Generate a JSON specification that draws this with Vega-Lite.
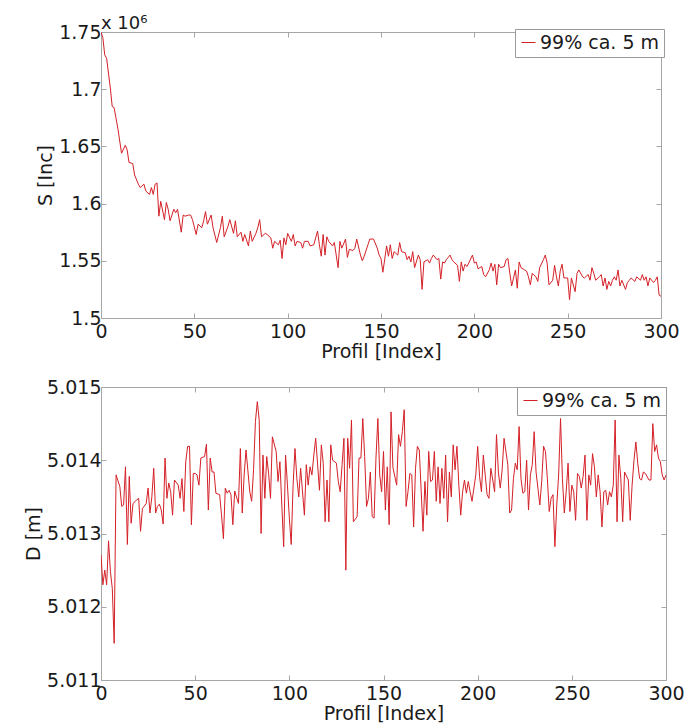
{
  "$schema": "https://vega.github.io/schema/vega-lite/v6.json",
  "background": "white",
  "padding": {"left": 24, "top": 15, "right": 5, "bottom": 5},
  "config": {
    "font": "DejaVu Sans",
    "view": {"stroke": null},
    "axis": {
      "grid": false,
      "domainColor": "#a6a6a6",
      "domainWidth": 1,
      "tickColor": "#a6a6a6",
      "tickWidth": 1,
      "tickSize": -5,
      "labelFont": "DejaVu Sans",
      "labelFontSize": 19,
      "labelColor": "#1a1a1a",
      "labelFlush": false,
      "labelOverlap": false,
      "titleFont": "DejaVu Sans",
      "titleFontSize": 19,
      "titleFontWeight": "normal",
      "titleColor": "#1a1a1a"
    },
    "axisX": {"labelPadding": 9, "titlePadding": 1},
    "axisY": {"labelPadding": 5, "titlePadding": 3},
    "legend": {
      "orient": "top-right",
      "strokeColor": "#9a9a9a",
      "fillColor": "white",
      "padding": 4,
      "cornerRadius": 0,
      "labelFont": "DejaVu Sans",
      "labelFontSize": 19,
      "labelColor": "#1a1a1a",
      "labelOffset": 2,
      "symbolType": "stroke",
      "symbolSize": 196,
      "symbolStrokeWidth": 1
    }
  },
  "bounds": "flush",
  "spacing": 69,
  "resolve": {"scale": {"color": "independent"}, "legend": {"color": "independent"}},
  "vconcat": [
    {
      "width": 560,
      "height": 286,
      "title": {"text": "x 10⁶", "anchor": "start", "frame": "group", "font": "DejaVu Sans", "fontSize": 18, "fontWeight": "normal", "color": "#1a1a1a", "offset": -24, "baseline": "alphabetic"},
      "data": {"values": [
        {"profil":0,"s":1750000},{"profil":1,"s":1745000},{"profil":2,"s":1730000},{"profil":3,"s":1727000},{"profil":5,"s":1701000},{"profil":6,"s":1685000},{"profil":7,"s":1684000},{"profil":8,"s":1675000},{"profil":9,"s":1666000},{"profil":11,"s":1644000},{"profil":13,"s":1651000},{"profil":14,"s":1647000},{"profil":15,"s":1636000},{"profil":17,"s":1635000},{"profil":18,"s":1625000},{"profil":20,"s":1617000},{"profil":21,"s":1614000},{"profil":23,"s":1617000},{"profil":24,"s":1611000},{"profil":26,"s":1608000},{"profil":27,"s":1614000},{"profil":28,"s":1608000},{"profil":29,"s":1617000},{"profil":30,"s":1618000},{"profil":31,"s":1589000},{"profil":32,"s":1602000},{"profil":34,"s":1586000},{"profil":35,"s":1601000},{"profil":36,"s":1595000},{"profil":37,"s":1585000},{"profil":39,"s":1595000},{"profil":40,"s":1592000},{"profil":41,"s":1595000},{"profil":43,"s":1575000},{"profil":44,"s":1590000},{"profil":45,"s":1589000},{"profil":47,"s":1590000},{"profil":48,"s":1590000},{"profil":49,"s":1586000},{"profil":51,"s":1573000},{"profil":52,"s":1582000},{"profil":54,"s":1579000},{"profil":55,"s":1585000},{"profil":56,"s":1593000},{"profil":57,"s":1582000},{"profil":59,"s":1590000},{"profil":60,"s":1579000},{"profil":62,"s":1566000},{"profil":64,"s":1579000},{"profil":65,"s":1589000},{"profil":66,"s":1571000},{"profil":68,"s":1580000},{"profil":69,"s":1586000},{"profil":71,"s":1574000},{"profil":72,"s":1585000},{"profil":73,"s":1571000},{"profil":75,"s":1575000},{"profil":76,"s":1567000},{"profil":77,"s":1573000},{"profil":79,"s":1563000},{"profil":80,"s":1576000},{"profil":81,"s":1567000},{"profil":83,"s":1574000},{"profil":84,"s":1579000},{"profil":85,"s":1586000},{"profil":86,"s":1571000},{"profil":88,"s":1574000},{"profil":89,"s":1573000},{"profil":91,"s":1570000},{"profil":92,"s":1561000},{"profil":93,"s":1567000},{"profil":95,"s":1564000},{"profil":96,"s":1568000},{"profil":97,"s":1552000},{"profil":98,"s":1570000},{"profil":99,"s":1564000},{"profil":100,"s":1574000},{"profil":102,"s":1567000},{"profil":103,"s":1573000},{"profil":104,"s":1563000},{"profil":105,"s":1567000},{"profil":107,"s":1566000},{"profil":108,"s":1561000},{"profil":109,"s":1567000},{"profil":111,"s":1567000},{"profil":112,"s":1563000},{"profil":114,"s":1564000},{"profil":115,"s":1570000},{"profil":116,"s":1576000},{"profil":117,"s":1564000},{"profil":118,"s":1554000},{"profil":119,"s":1573000},{"profil":120,"s":1555000},{"profil":121,"s":1571000},{"profil":122,"s":1567000},{"profil":124,"s":1563000},{"profil":125,"s":1566000},{"profil":127,"s":1544000},{"profil":128,"s":1567000},{"profil":129,"s":1561000},{"profil":131,"s":1569000},{"profil":132,"s":1553000},{"profil":133,"s":1560000},{"profil":135,"s":1559000},{"profil":136,"s":1561000},{"profil":137,"s":1569000},{"profil":139,"s":1555000},{"profil":140,"s":1550000},{"profil":141,"s":1554000},{"profil":143,"s":1564000},{"profil":144,"s":1569000},{"profil":146,"s":1569000},{"profil":148,"s":1561000},{"profil":149,"s":1555000},{"profil":150,"s":1552000},{"profil":151,"s":1540000},{"profil":153,"s":1563000},{"profil":154,"s":1554000},{"profil":155,"s":1564000},{"profil":156,"s":1552000},{"profil":157,"s":1558000},{"profil":159,"s":1555000},{"profil":160,"s":1566000},{"profil":161,"s":1558000},{"profil":163,"s":1557000},{"profil":164,"s":1551000},{"profil":165,"s":1554000},{"profil":166,"s":1549000},{"profil":167,"s":1558000},{"profil":168,"s":1544000},{"profil":170,"s":1555000},{"profil":171,"s":1551000},{"profil":172,"s":1525000},{"profil":173,"s":1549000},{"profil":175,"s":1551000},{"profil":176,"s":1548000},{"profil":177,"s":1552000},{"profil":178,"s":1555000},{"profil":180,"s":1551000},{"profil":181,"s":1552000},{"profil":182,"s":1534000},{"profil":183,"s":1549000},{"profil":184,"s":1548000},{"profil":185,"s":1551000},{"profil":187,"s":1555000},{"profil":188,"s":1551000},{"profil":189,"s":1549000},{"profil":191,"s":1546000},{"profil":192,"s":1532000},{"profil":193,"s":1549000},{"profil":194,"s":1541000},{"profil":195,"s":1547000},{"profil":196,"s":1545000},{"profil":197,"s":1548000},{"profil":199,"s":1555000},{"profil":200,"s":1548000},{"profil":201,"s":1549000},{"profil":202,"s":1543000},{"profil":204,"s":1545000},{"profil":205,"s":1538000},{"profil":206,"s":1536000},{"profil":208,"s":1542000},{"profil":209,"s":1548000},{"profil":210,"s":1541000},{"profil":211,"s":1547000},{"profil":212,"s":1529000},{"profil":213,"s":1547000},{"profil":214,"s":1544000},{"profil":216,"s":1545000},{"profil":217,"s":1551000},{"profil":218,"s":1552000},{"profil":219,"s":1539000},{"profil":220,"s":1528000},{"profil":222,"s":1542000},{"profil":223,"s":1526000},{"profil":224,"s":1549000},{"profil":225,"s":1544000},{"profil":227,"s":1542000},{"profil":228,"s":1541000},{"profil":229,"s":1536000},{"profil":230,"s":1529000},{"profil":231,"s":1539000},{"profil":233,"s":1536000},{"profil":234,"s":1532000},{"profil":235,"s":1544000},{"profil":237,"s":1551000},{"profil":238,"s":1555000},{"profil":239,"s":1548000},{"profil":240,"s":1529000},{"profil":242,"s":1533000},{"profil":243,"s":1546000},{"profil":244,"s":1536000},{"profil":245,"s":1528000},{"profil":246,"s":1541000},{"profil":247,"s":1547000},{"profil":248,"s":1535000},{"profil":250,"s":1535000},{"profil":251,"s":1516000},{"profil":252,"s":1535000},{"profil":254,"s":1523000},{"profil":255,"s":1539000},{"profil":256,"s":1542000},{"profil":258,"s":1536000},{"profil":259,"s":1535000},{"profil":261,"s":1538000},{"profil":262,"s":1533000},{"profil":263,"s":1544000},{"profil":264,"s":1539000},{"profil":265,"s":1533000},{"profil":267,"s":1536000},{"profil":268,"s":1538000},{"profil":269,"s":1528000},{"profil":270,"s":1535000},{"profil":271,"s":1525000},{"profil":272,"s":1532000},{"profil":273,"s":1528000},{"profil":274,"s":1533000},{"profil":275,"s":1536000},{"profil":276,"s":1533000},{"profil":277,"s":1542000},{"profil":278,"s":1528000},{"profil":279,"s":1533000},{"profil":281,"s":1525000},{"profil":282,"s":1531000},{"profil":283,"s":1533000},{"profil":284,"s":1535000},{"profil":286,"s":1532000},{"profil":287,"s":1536000},{"profil":289,"s":1533000},{"profil":290,"s":1538000},{"profil":291,"s":1533000},{"profil":292,"s":1536000},{"profil":293,"s":1528000},{"profil":294,"s":1535000},{"profil":296,"s":1531000},{"profil":297,"s":1533000},{"profil":298,"s":1536000},{"profil":299,"s":1520000},{"profil":300,"s":1519000}
      ]},
      "layer": [
        {
          "mark": {"type": "line", "strokeWidth": 1, "clip": true},
          "encoding": {
            "x": {"field": "profil", "type": "quantitative", "scale": {"domain": [0, 300], "nice": false}, "axis": {"orient": "bottom", "title": "Profil [Index]", "values": [0, 50, 100, 150, 200, 250, 300], "format": "d"}},
            "y": {"field": "s", "type": "quantitative", "scale": {"domain": [1500000, 1750000], "nice": false, "zero": false}, "axis": {"orient": "left", "title": "S [Inc]", "values": [1500000, 1550000, 1600000, 1650000, 1700000, 1750000], "labelExpr": "format(datum.value / 1000000, '~g')"}},
            "color": {"datum": "99% ca. 5 m", "type": "nominal", "scale": {"range": ["#d42027"]}, "legend": {"title": null, "orient": "top-right", "offset": -3}}
          }
        },
        {
          "mark": {"type": "line", "opacity": 0},
          "encoding": {
            "x": {"field": "profil", "type": "quantitative", "axis": {"orient": "top", "labels": false, "title": null, "values": [0, 50, 100, 150, 200, 250, 300]}},
            "y": {"field": "s", "type": "quantitative", "axis": {"orient": "right", "labels": false, "title": null, "values": [1500000, 1550000, 1600000, 1650000, 1700000, 1750000]}}
          }
        }
      ],
      "resolve": {"axis": {"x": "independent", "y": "independent"}}
    },
    {
      "width": 565,
      "height": 293,
      "data": {"values": [
        {"profil":0,"d":5.01271},{"profil":1,"d":5.0123},{"profil":2,"d":5.0125},{"profil":3,"d":5.0123},{"profil":4,"d":5.0129},{"profil":5,"d":5.01248},{"profil":6,"d":5.01225},{"profil":7,"d":5.0115},{"profil":8,"d":5.0138},{"profil":10,"d":5.01364},{"profil":11,"d":5.01337},{"profil":12,"d":5.01339},{"profil":13,"d":5.01391},{"profil":14,"d":5.01285},{"profil":15,"d":5.01378},{"profil":16,"d":5.01314},{"profil":17,"d":5.01341},{"profil":19,"d":5.01346},{"profil":20,"d":5.01348},{"profil":21,"d":5.01303},{"profil":22,"d":5.01334},{"profil":24,"d":5.01341},{"profil":25,"d":5.01362},{"profil":26,"d":5.01328},{"profil":27,"d":5.0135},{"profil":28,"d":5.01389},{"profil":29,"d":5.01328},{"profil":30,"d":5.01337},{"profil":31,"d":5.0134},{"profil":32,"d":5.01332},{"profil":33,"d":5.01313},{"profil":34,"d":5.01403},{"profil":35,"d":5.01348},{"profil":36,"d":5.01369},{"profil":37,"d":5.01357},{"profil":38,"d":5.01325},{"profil":39,"d":5.01373},{"profil":41,"d":5.01366},{"profil":42,"d":5.01348},{"profil":43,"d":5.01375},{"profil":44,"d":5.0133},{"profil":45,"d":5.01398},{"profil":46,"d":5.01419},{"profil":47,"d":5.01419},{"profil":48,"d":5.01312},{"profil":49,"d":5.01382},{"profil":50,"d":5.01382},{"profil":51,"d":5.0138},{"profil":52,"d":5.01366},{"profil":53,"d":5.01403},{"profil":55,"d":5.01405},{"profil":56,"d":5.01422},{"profil":57,"d":5.01332},{"profil":58,"d":5.01403},{"profil":59,"d":5.01384},{"profil":60,"d":5.01384},{"profil":61,"d":5.01355},{"profil":63,"d":5.01353},{"profil":64,"d":5.01325},{"profil":65,"d":5.01293},{"profil":66,"d":5.01362},{"profil":67,"d":5.01355},{"profil":68,"d":5.01359},{"profil":69,"d":5.01353},{"profil":70,"d":5.01312},{"profil":71,"d":5.01358},{"profil":73,"d":5.01341},{"profil":74,"d":5.01416},{"profil":75,"d":5.01328},{"profil":76,"d":5.0138},{"profil":77,"d":5.01414},{"profil":79,"d":5.01357},{"profil":80,"d":5.01344},{"profil":81,"d":5.01387},{"profil":82,"d":5.01453},{"profil":83,"d":5.0148},{"profil":84,"d":5.01455},{"profil":85,"d":5.013},{"profil":86,"d":5.01407},{"profil":87,"d":5.01348},{"profil":88,"d":5.01405},{"profil":89,"d":5.01382},{"profil":90,"d":5.01348},{"profil":91,"d":5.01432},{"profil":93,"d":5.01412},{"profil":94,"d":5.01371},{"profil":95,"d":5.01398},{"profil":96,"d":5.01339},{"profil":97,"d":5.01282},{"profil":98,"d":5.01407},{"profil":99,"d":5.01366},{"profil":100,"d":5.01321},{"profil":101,"d":5.01285},{"profil":102,"d":5.01366},{"profil":103,"d":5.01416},{"profil":104,"d":5.01375},{"profil":105,"d":5.0135},{"profil":106,"d":5.01389},{"profil":108,"d":5.01325},{"profil":109,"d":5.01394},{"profil":110,"d":5.01366},{"profil":111,"d":5.01391},{"profil":112,"d":5.0138},{"profil":113,"d":5.01407},{"profil":114,"d":5.0143},{"profil":116,"d":5.01359},{"profil":117,"d":5.01421},{"profil":118,"d":5.01396},{"profil":119,"d":5.01316},{"profil":120,"d":5.01373},{"profil":121,"d":5.01316},{"profil":122,"d":5.01421},{"profil":123,"d":5.014},{"profil":125,"d":5.01396},{"profil":126,"d":5.01371},{"profil":127,"d":5.01357},{"profil":128,"d":5.01394},{"profil":129,"d":5.0143},{"profil":130,"d":5.0125},{"profil":131,"d":5.0143},{"profil":132,"d":5.01389},{"profil":133,"d":5.01455},{"profil":134,"d":5.01316},{"profil":136,"d":5.01323},{"profil":137,"d":5.01403},{"profil":138,"d":5.01403},{"profil":139,"d":5.01457},{"profil":140,"d":5.01405},{"profil":141,"d":5.01337},{"profil":142,"d":5.01348},{"profil":143,"d":5.01384},{"profil":144,"d":5.01323},{"profil":145,"d":5.01321},{"profil":146,"d":5.01403},{"profil":147,"d":5.01457},{"profil":148,"d":5.0138},{"profil":149,"d":5.01357},{"profil":150,"d":5.01412},{"profil":151,"d":5.01332},{"profil":152,"d":5.01391},{"profil":153,"d":5.01312},{"profil":154,"d":5.01466},{"profil":155,"d":5.0139},{"profil":157,"d":5.01366},{"profil":158,"d":5.01435},{"profil":159,"d":5.01419},{"profil":160,"d":5.01439},{"profil":161,"d":5.01469},{"profil":162,"d":5.01337},{"profil":163,"d":5.01357},{"profil":164,"d":5.01382},{"profil":165,"d":5.0138},{"profil":166,"d":5.01309},{"profil":167,"d":5.01389},{"profil":168,"d":5.01419},{"profil":169,"d":5.01414},{"profil":171,"d":5.01303},{"profil":172,"d":5.01371},{"profil":173,"d":5.01325},{"profil":174,"d":5.01412},{"profil":175,"d":5.01371},{"profil":176,"d":5.01373},{"profil":177,"d":5.01412},{"profil":178,"d":5.01344},{"profil":179,"d":5.01391},{"profil":180,"d":5.01341},{"profil":181,"d":5.01389},{"profil":182,"d":5.01348},{"profil":183,"d":5.01407},{"profil":184,"d":5.01316},{"profil":185,"d":5.01384},{"profil":186,"d":5.0135},{"profil":187,"d":5.01421},{"profil":188,"d":5.01387},{"profil":189,"d":5.01419},{"profil":190,"d":5.01366},{"profil":191,"d":5.01325},{"profil":192,"d":5.01357},{"profil":193,"d":5.01373},{"profil":194,"d":5.01355},{"profil":195,"d":5.01371},{"profil":196,"d":5.01357},{"profil":197,"d":5.01344},{"profil":199,"d":5.0138},{"profil":200,"d":5.01419},{"profil":201,"d":5.01378},{"profil":202,"d":5.01357},{"profil":203,"d":5.01407},{"profil":205,"d":5.01353},{"profil":206,"d":5.01348},{"profil":207,"d":5.01389},{"profil":209,"d":5.01357},{"profil":210,"d":5.01435},{"profil":211,"d":5.01384},{"profil":212,"d":5.01362},{"profil":213,"d":5.01387},{"profil":214,"d":5.0143},{"profil":216,"d":5.01394},{"profil":217,"d":5.01328},{"profil":218,"d":5.01332},{"profil":219,"d":5.01375},{"profil":220,"d":5.01396},{"profil":221,"d":5.01387},{"profil":222,"d":5.01446},{"profil":223,"d":5.01375},{"profil":224,"d":5.01355},{"profil":225,"d":5.01357},{"profil":226,"d":5.014},{"profil":227,"d":5.01332},{"profil":228,"d":5.0138},{"profil":229,"d":5.01394},{"profil":230,"d":5.01439},{"profil":231,"d":5.01384},{"profil":233,"d":5.01339},{"profil":234,"d":5.01371},{"profil":235,"d":5.01419},{"profil":236,"d":5.01412},{"profil":237,"d":5.01375},{"profil":238,"d":5.0133},{"profil":239,"d":5.01348},{"profil":240,"d":5.01353},{"profil":241,"d":5.01282},{"profil":242,"d":5.01339},{"profil":243,"d":5.0138},{"profil":244,"d":5.01457},{"profil":245,"d":5.01375},{"profil":246,"d":5.01328},{"profil":247,"d":5.01357},{"profil":248,"d":5.01396},{"profil":249,"d":5.0133},{"profil":250,"d":5.01366},{"profil":251,"d":5.01357},{"profil":252,"d":5.01318},{"profil":253,"d":5.01382},{"profil":254,"d":5.01378},{"profil":255,"d":5.01362},{"profil":256,"d":5.01378},{"profil":257,"d":5.01407},{"profil":258,"d":5.01318},{"profil":259,"d":5.0138},{"profil":260,"d":5.01366},{"profil":261,"d":5.01409},{"profil":262,"d":5.01391},{"profil":263,"d":5.0135},{"profil":264,"d":5.0138},{"profil":265,"d":5.01357},{"profil":266,"d":5.01309},{"profil":267,"d":5.01357},{"profil":268,"d":5.01359},{"profil":269,"d":5.01339},{"profil":270,"d":5.01357},{"profil":271,"d":5.0135},{"profil":272,"d":5.01366},{"profil":273,"d":5.01455},{"profil":274,"d":5.01316},{"profil":275,"d":5.01407},{"profil":276,"d":5.01375},{"profil":277,"d":5.01316},{"profil":278,"d":5.01384},{"profil":280,"d":5.01373},{"profil":281,"d":5.01318},{"profil":282,"d":5.01366},{"profil":283,"d":5.014},{"profil":284,"d":5.01425},{"profil":285,"d":5.01396},{"profil":286,"d":5.01375},{"profil":287,"d":5.01373},{"profil":288,"d":5.01384},{"profil":289,"d":5.01382},{"profil":291,"d":5.01373},{"profil":292,"d":5.01373},{"profil":293,"d":5.0145},{"profil":294,"d":5.01412},{"profil":295,"d":5.01421},{"profil":296,"d":5.01403},{"profil":297,"d":5.01398},{"profil":298,"d":5.0138},{"profil":299,"d":5.01373},{"profil":300,"d":5.0138}
      ]},
      "layer": [
        {
          "mark": {"type": "line", "strokeWidth": 1, "clip": true},
          "encoding": {
            "x": {"field": "profil", "type": "quantitative", "scale": {"domain": [0, 300], "nice": false}, "axis": {"orient": "bottom", "title": "Profil [Index]", "values": [0, 50, 100, 150, 200, 250, 300], "format": "d"}},
            "y": {"field": "d", "type": "quantitative", "scale": {"domain": [5.011, 5.015], "nice": false, "zero": false}, "axis": {"orient": "left", "title": "D [m]", "values": [5.011, 5.012, 5.013, 5.014, 5.015], "format": ".3f"}},
            "color": {"datum": "99% ca. 5 m", "type": "nominal", "scale": {"range": ["#d42027"]}, "legend": {"title": null, "orient": "top-right", "offset": 0}}
          }
        },
        {
          "mark": {"type": "line", "opacity": 0},
          "encoding": {
            "x": {"field": "profil", "type": "quantitative", "axis": {"orient": "top", "labels": false, "title": null, "values": [0, 50, 100, 150, 200, 250, 300]}},
            "y": {"field": "d", "type": "quantitative", "axis": {"orient": "right", "labels": false, "title": null, "values": [5.011, 5.012, 5.013, 5.014, 5.015]}}
          }
        }
      ],
      "resolve": {"axis": {"x": "independent", "y": "independent"}}
    }
  ]
}
